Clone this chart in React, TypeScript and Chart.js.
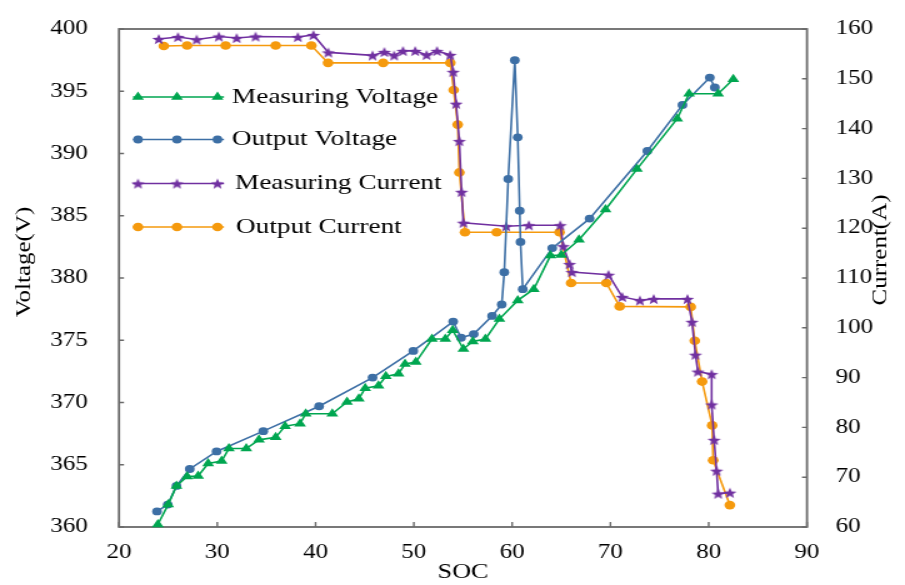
import React, { useEffect, useRef } from 'react';
import { Chart, registerables } from 'chart.js';

Chart.register(...registerables);

// ---------- data ----------
const xTickValues = [20, 30, 40, 50, 60, 70, 80, 90];
const voltageTicks = [360, 365, 370, 375, 380, 385, 390, 395, 400];
const currentTicks = [60, 70, 80, 90, 100, 110, 120, 130, 140, 150, 160];

const socMeasV = [23.95, 25.0, 25.85, 26.93, 28.05, 29.07, 30.44, 31.18, 32.95, 34.24, 35.94, 36.9, 38.42, 39.0, 41.7, 43.2, 44.4, 45.05, 46.4, 47.15, 48.44, 49.1, 50.2, 51.84, 53.2, 53.95, 55.04, 56.0, 57.28, 58.7, 60.57, 62.2, 63.9, 65.0, 66.8, 69.5, 72.7, 76.8, 78.0, 80.96, 82.5];
const measVoltage = [360.2, 361.8, 363.3, 364.05, 364.1, 365.1, 365.3, 366.3, 366.3, 367.0, 367.2, 368.1, 368.3, 369.1, 369.1, 370.05, 370.3, 371.15, 371.35, 372.1, 372.3, 373.1, 373.25, 375.1, 375.1, 375.8, 374.3, 374.9, 375.1, 376.7, 378.2, 379.1, 381.8, 381.85, 383.07, 385.5, 388.75, 392.8, 394.8, 394.8, 395.96];

const socOutV = [23.87, 24.96, 25.85, 27.2, 29.93, 34.68, 40.36, 45.8, 49.94, 54.0, 54.8, 56.09, 57.96, 58.94, 59.2, 59.6, 60.27, 60.57, 60.77, 60.85, 61.08, 64.08, 67.88, 73.76, 77.33, 80.11, 80.62];
const outVoltage = [361.25, 361.8, 363.3, 364.66, 366.07, 367.7, 369.7, 372.0, 374.14, 376.5, 375.2, 375.5, 376.95, 377.87, 380.47, 387.95, 397.5, 391.3, 385.4, 382.9, 379.1, 382.4, 384.77, 390.2, 393.9, 396.1, 395.3];

const socMeasI = [24.05, 26.0, 27.9, 30.16, 31.97, 33.9, 38.2, 39.78, 41.3, 45.8, 47.0, 48.0, 48.9, 50.14, 51.3, 52.35, 53.7, 54.0, 54.3, 54.63, 54.86, 55.04, 59.4, 61.7, 64.9, 65.2, 65.84, 66.08, 69.8, 71.2, 73.0, 74.4, 77.84, 78.3, 78.65, 78.9, 80.3, 80.3, 80.55, 80.8, 80.96, 82.15];
const measCurrent = [158.0, 158.4, 157.9, 158.5, 158.2, 158.5, 158.4, 158.8, 155.3, 154.7, 155.4, 154.7, 155.6, 155.6, 154.8, 155.6, 154.8, 151.4, 145.0, 137.5, 127.3, 121.1, 120.4, 120.6, 120.6, 116.4, 112.8, 111.2, 110.65, 106.2, 105.5, 105.8, 105.8, 101.2, 94.6, 91.2, 90.7, 84.6, 77.5, 71.3, 66.7, 66.9];

const socOutI = [24.56, 26.93, 30.85, 35.94, 39.57, 41.27, 46.88, 53.71, 54.05, 54.46, 54.63, 55.2, 58.43, 64.82, 66.0, 69.58, 70.94, 78.17, 78.58, 79.33, 80.35, 80.45, 82.15];
const outCurrent = [156.6, 156.7, 156.7, 156.7, 156.7, 153.2, 153.2, 153.2, 147.75, 140.8, 131.2, 119.2, 119.2, 119.2, 109.0, 109.0, 104.3, 104.2, 97.4, 89.2, 80.4, 73.4, 64.4];

const seriesLabels = ['Measuring Voltage', 'Output Voltage', 'Measuring Current', 'Output Current'];
const xTitle = 'SOC';
const yTitle = 'Voltage(V)';
const y1Title = 'Current(A)';

// ---------- style ----------
const STRETCH = 1.25;
const W = 905;
const H = 585;
const CW = W / STRETCH;
const GREEN = '#00a650';
const BLUE = '#3d6fa5';
const PURPLE = '#7030a0';
const ORANGE = '#f59a0e';
const FRAME = '#6a6a6a';
const SERIF = '"Times New Roman", "Liberation Serif", serif';

function pts(xs: number[], ys: number[]) {
  return xs.map((x, i) => ({ x, y: ys[i] }));
}

function makeStar(color: string, size: number, outer: number, inner: number) {
  const c = document.createElement('canvas');
  c.width = size;
  c.height = size;
  const g = c.getContext('2d')!;
  g.beginPath();
  for (let i = 0; i < 10; i++) {
    const r = i % 2 === 0 ? outer : inner;
    const a = -Math.PI / 2 + (i * Math.PI) / 5;
    const px = size / 2 + r * Math.cos(a);
    const py = size / 2 + 0.7 + r * Math.sin(a);
    if (i === 0) g.moveTo(px, py);
    else g.lineTo(px, py);
  }
  g.closePath();
  g.fillStyle = color;
  g.fill();
  return c;
}

export default function App() {
  const ref = useRef<HTMLCanvasElement | null>(null);

  useEffect(() => {
    if (!ref.current) return;
    const star = makeStar(PURPLE, 14, 5.6, 2.4);

    const drawMarker = (ctx: CanvasRenderingContext2D, kind: string, x: number, y: number, color: string) => {
      ctx.save();
      ctx.fillStyle = color;
      if (kind === 'triangle') {
        const r = 5.5;
        ctx.beginPath();
        ctx.moveTo(x, y - r);
        ctx.lineTo(x + r * Math.sin((2 * Math.PI) / 3), y - r * Math.cos((2 * Math.PI) / 3));
        ctx.lineTo(x + r * Math.sin((4 * Math.PI) / 3), y - r * Math.cos((4 * Math.PI) / 3));
        ctx.closePath();
        ctx.fill();
      } else if (kind === 'star') {
        ctx.drawImage(star, x - star.width / 2, y - star.height / 2);
      } else {
        ctx.beginPath();
        ctx.arc(x, y, kind === 'big' ? 4.3 : 3.9, 0, Math.PI * 2);
        ctx.fill();
      }
      ctx.restore();
    };

    const framePlugin = {
      id: 'frame',
      beforeDatasetsDraw(chart: any) {
        const { ctx, chartArea: a, scales } = chart;
        ctx.save();
        ctx.strokeStyle = FRAME;
        ctx.lineWidth = 1.8;
        ctx.strokeRect(a.left, a.top, a.right - a.left, a.bottom - a.top);
        ctx.lineWidth = 1.4;
        ctx.beginPath();
        xTickValues.forEach((v) => {
          const px = scales.x.getPixelForValue(v);
          ctx.moveTo(px, a.bottom);
          ctx.lineTo(px, a.bottom - 5);
        });
        voltageTicks.forEach((v) => {
          const py = scales.y.getPixelForValue(v);
          ctx.moveTo(a.left, py);
          ctx.lineTo(a.left + 4, py);
        });
        currentTicks.forEach((v) => {
          const py = scales.y1.getPixelForValue(v);
          ctx.moveTo(a.right, py);
          ctx.lineTo(a.right - 4, py);
        });
        ctx.stroke();
        ctx.restore();
      },
      afterDraw(chart: any) {
        const { ctx } = chart;
        // legend
        const rows = [
          { label: seriesLabels[0], color: GREEN, kind: 'triangle', y: 97, tx: 185.6 },
          { label: seriesLabels[1], color: BLUE, kind: 'circle', y: 139.5, tx: 185.6 },
          { label: seriesLabels[2], color: PURPLE, kind: 'star', y: 183.5, tx: 188 },
          { label: seriesLabels[3], color: ORANGE, kind: 'big', y: 227, tx: 188.8 },
        ];
        rows.forEach((r) => {
          ctx.save();
          ctx.strokeStyle = r.color;
          ctx.lineWidth = 1.6;
          ctx.beginPath();
          ctx.moveTo(106.4, r.y);
          ctx.lineTo(179.2, r.y);
          ctx.stroke();
          ctx.restore();
          [110.4, 141.6, 174].forEach((mx) => drawMarker(ctx, r.kind, mx, r.y, r.color));
          ctx.save();
          ctx.fillStyle = '#000';
          ctx.font = `21.8px ${SERIF}`;
          ctx.textAlign = 'left';
          ctx.textBaseline = 'middle';
          ctx.fillText(r.label, r.tx, r.y);
          ctx.restore();
        });
        // rotated, condensed axis titles
        const vtitle = (text: string, x: number, y: number) => {
          ctx.save();
          ctx.translate(x, y);
          ctx.rotate(-Math.PI / 2);
          ctx.scale(1, 0.68);
          ctx.fillStyle = '#000';
          ctx.font = `25px ${SERIF}`;
          ctx.textAlign = 'center';
          ctx.textBaseline = 'middle';
          ctx.fillText(text, 0, 0);
          ctx.restore();
        };
        vtitle(yTitle, 20, 262);
        vtitle(y1Title, 705, 250);
      },
    };

    const tickFont = { family: SERIF, size: 20 };

    const chart = new Chart(ref.current, {
      type: 'line',
      data: {
        datasets: [
          {
            label: seriesLabels[0],
            data: pts(socMeasV, measVoltage),
            yAxisID: 'y',
            borderColor: GREEN,
            backgroundColor: GREEN,
            borderWidth: 1.6,
            pointStyle: 'triangle',
            pointRadius: 5.5,
            pointBorderWidth: 0,
            pointBackgroundColor: GREEN,
            tension: 0,
            clip: false,
          },
          {
            label: seriesLabels[1],
            data: pts(socOutV, outVoltage),
            yAxisID: 'y',
            borderColor: BLUE,
            backgroundColor: BLUE,
            borderWidth: 1.6,
            pointStyle: 'circle',
            pointRadius: 3.9,
            pointBorderWidth: 0,
            pointBackgroundColor: BLUE,
            tension: 0,
            clip: false,
          },
          {
            label: seriesLabels[2],
            data: pts(socMeasI, measCurrent),
            yAxisID: 'y1',
            borderColor: PURPLE,
            backgroundColor: PURPLE,
            borderWidth: 1.6,
            pointStyle: star as any,
            pointRadius: 5.5,
            tension: 0,
            clip: false,
          },
          {
            label: seriesLabels[3],
            data: pts(socOutI, outCurrent),
            yAxisID: 'y1',
            borderColor: ORANGE,
            backgroundColor: ORANGE,
            borderWidth: 1.6,
            pointStyle: 'circle',
            pointRadius: 4.3,
            pointBorderWidth: 0,
            pointBackgroundColor: ORANGE,
            tension: 0,
            clip: false,
          },
        ],
      },
      options: {
        responsive: false,
        animation: false,
        devicePixelRatio: 1,
        layout: { padding: { top: 15, left: 0, right: 0, bottom: 0 } },
        plugins: { legend: { display: false }, tooltip: { enabled: false } },
        scales: {
          x: {
            type: 'linear',
            position: 'bottom',
            min: xTickValues[0],
            max: xTickValues[xTickValues.length - 1],
            afterBuildTicks: (s: any) => { s.ticks = xTickValues.map((v) => ({ value: v })); },
            ticks: { color: '#000', font: tickFont, padding: 6, maxRotation: 0, autoSkip: false },
            grid: { display: false },
            border: { display: false },
            title: { display: true, text: xTitle, color: '#000', font: { family: SERIF, size: 21 }, padding: 0 },
            afterFit: (s: any) => { s.height = 58; },
          },
          y: {
            type: 'linear',
            position: 'left',
            min: voltageTicks[0],
            max: voltageTicks[voltageTicks.length - 1],
            afterBuildTicks: (s: any) => { s.ticks = voltageTicks.map((v) => ({ value: v })); },
            ticks: { color: '#000', font: tickFont, padding: 17, autoSkip: false },
            grid: { display: false },
            border: { display: false },
            afterFit: (s: any) => { s.width = 95.2; },
          },
          y1: {
            type: 'linear',
            position: 'right',
            min: currentTicks[0],
            max: currentTicks[currentTicks.length - 1],
            afterBuildTicks: (s: any) => { s.ticks = currentTicks.map((v) => ({ value: v })); },
            ticks: { color: '#000', font: tickFont, padding: 15, autoSkip: false },
            grid: { display: false },
            border: { display: false },
            afterFit: (s: any) => { s.width = 78.4; },
          },
        },
      },
      plugins: [framePlugin],
    });
    return () => chart.destroy();
  }, []);

  return (
    <div style={{ position: 'fixed', left: 0, top: 0, width: W, height: H, background: '#fff' }}>
      <canvas ref={ref} width={CW} height={H} style={{ width: `${W}px`, height: `${H}px`, display: 'block' }} />
    </div>
  );
}
